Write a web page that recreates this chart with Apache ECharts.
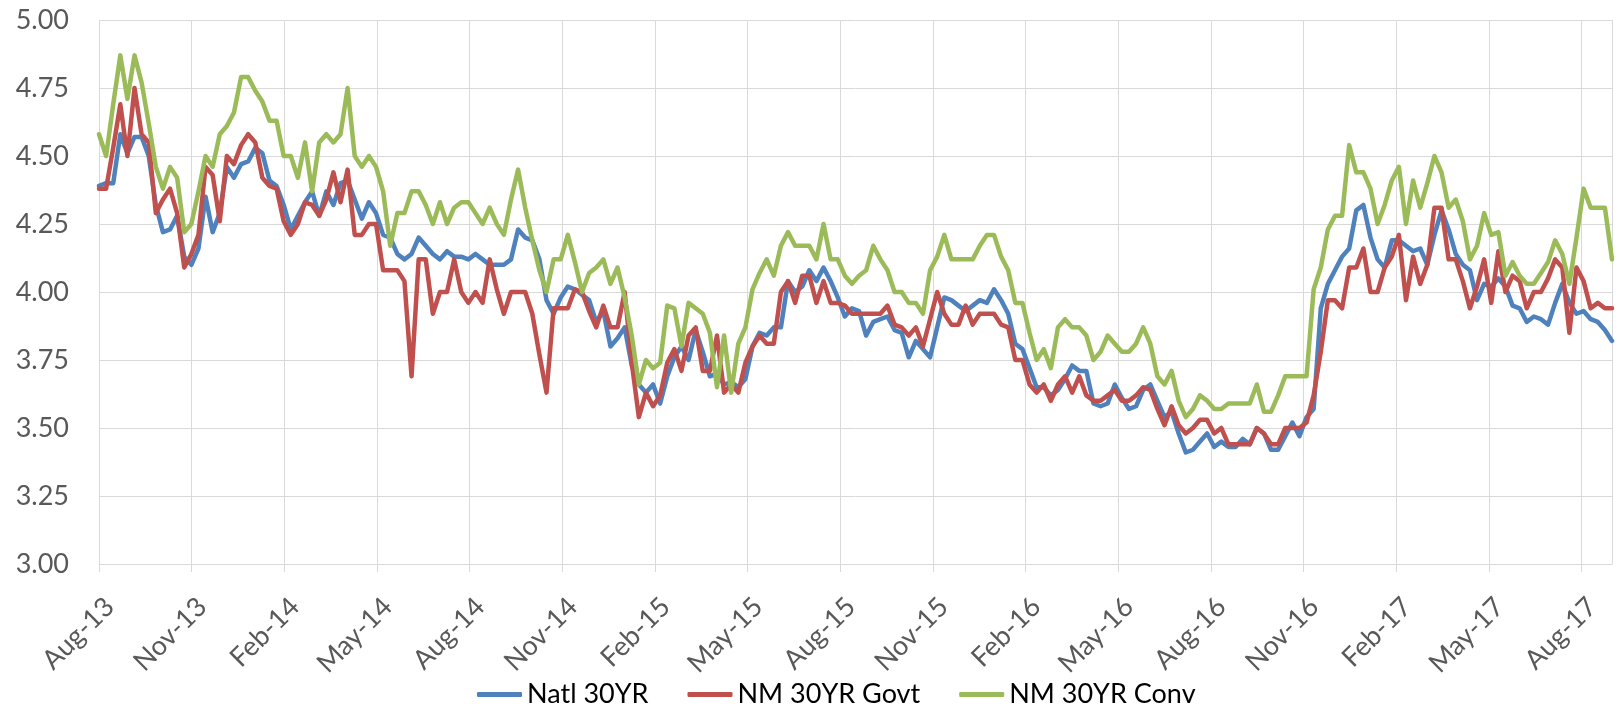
<!DOCTYPE html>
<html>
<head>
<meta charset="utf-8">
<title>30YR rates</title>
<script src="https://cdn.jsdelivr.net/npm/echarts@6/dist/echarts.min.js"></script>
<style>
  html, body { margin: 0; padding: 0; background: #fff; }
  #chart { width: 1618px; height: 704px; }
</style>
</head>
<body>
<div id="chart"></div>
<script>
// weekly readings, first week = Thu 1 Aug 2013, last = Thu 31 Aug 2017
var daysPerWeek = 7;

var natl30 = [
  4.39, 4.40, 4.40, 4.58, 4.51, 4.57, 4.57, 4.50, 4.32, 4.22,
  4.23, 4.28, 4.13, 4.10, 4.16, 4.35, 4.22, 4.29, 4.46, 4.42,
  4.47, 4.48, 4.53, 4.51, 4.41, 4.39, 4.32, 4.23, 4.28, 4.33,
  4.37, 4.28, 4.37, 4.32, 4.40, 4.41, 4.34, 4.27, 4.33, 4.29,
  4.21, 4.20, 4.14, 4.12, 4.14, 4.20, 4.17, 4.14, 4.12, 4.15,
  4.13, 4.13, 4.12, 4.14, 4.12, 4.10, 4.10, 4.10, 4.12, 4.23,
  4.20, 4.19, 4.12, 3.97, 3.92, 3.98, 4.02, 4.01, 3.99, 3.97,
  3.89, 3.93, 3.80, 3.83, 3.87, 3.73, 3.66, 3.63, 3.66, 3.59,
  3.69, 3.76, 3.80, 3.75, 3.86, 3.78, 3.69, 3.70, 3.66, 3.67,
  3.65, 3.68, 3.80, 3.85, 3.84, 3.87, 3.87, 4.04, 4.00, 4.02,
  4.08, 4.04, 4.09, 4.04, 3.98, 3.91, 3.94, 3.93, 3.84, 3.89,
  3.90, 3.91, 3.86, 3.85, 3.76, 3.82, 3.79, 3.76, 3.87, 3.98,
  3.97, 3.95, 3.93, 3.95, 3.97, 3.96, 4.01, 3.97, 3.92, 3.81,
  3.79, 3.72, 3.65, 3.65, 3.62, 3.64, 3.68, 3.73, 3.71, 3.71,
  3.59, 3.58, 3.59, 3.66, 3.61, 3.57, 3.58, 3.64, 3.66, 3.60,
  3.54, 3.56, 3.48, 3.41, 3.42, 3.45, 3.48, 3.43, 3.45, 3.43,
  3.43, 3.46, 3.44, 3.50, 3.48, 3.42, 3.42, 3.47, 3.52, 3.47,
  3.54, 3.57, 3.94, 4.03, 4.08, 4.13, 4.16, 4.30, 4.32, 4.20,
  4.12, 4.09, 4.19, 4.19, 4.17, 4.15, 4.16, 4.10, 4.21, 4.30,
  4.23, 4.14, 4.10, 4.08, 3.97, 4.03, 4.02, 4.05, 4.02, 3.95,
  3.94, 3.89, 3.91, 3.90, 3.88, 3.96, 4.03, 3.96, 3.92, 3.93,
  3.90, 3.89, 3.86, 3.82
];

var nmGovt30 = [
  4.38, 4.38, 4.53, 4.69, 4.50, 4.75, 4.58, 4.55, 4.29, 4.34,
  4.38, 4.29, 4.09, 4.14, 4.21, 4.46, 4.43, 4.26, 4.50, 4.47,
  4.54, 4.58, 4.55, 4.42, 4.39, 4.38, 4.26, 4.21, 4.25, 4.33,
  4.32, 4.28, 4.34, 4.44, 4.33, 4.45, 4.21, 4.21, 4.25, 4.25,
  4.08, 4.08, 4.08, 4.04, 3.69, 4.12, 4.12, 3.92, 4.00, 4.00,
  4.12, 4.00, 3.96, 4.00, 3.96, 4.12, 4.01, 3.92, 4.00, 4.00,
  4.00, 3.92, 3.77, 3.63, 3.94, 3.94, 3.94, 4.01, 4.00, 3.93,
  3.87, 3.95, 3.87, 3.87, 4.00, 3.74, 3.54, 3.63, 3.58, 3.62,
  3.74, 3.79, 3.71, 3.84, 3.87, 3.71, 3.71, 3.84, 3.63, 3.66,
  3.63, 3.74, 3.80, 3.84, 3.81, 3.81, 4.00, 4.04, 3.96, 4.06,
  4.06, 3.96, 4.04, 3.96, 3.96, 3.95, 3.92, 3.92, 3.92, 3.92,
  3.92, 3.95, 3.88, 3.87, 3.84, 3.87, 3.80, 3.90, 4.00, 3.92,
  3.88, 3.88, 3.95, 3.88, 3.92, 3.92, 3.92, 3.88, 3.87, 3.75,
  3.75, 3.66, 3.63, 3.66, 3.60, 3.66, 3.69, 3.63, 3.69, 3.62,
  3.60, 3.60, 3.62, 3.64, 3.60, 3.60, 3.62, 3.65, 3.64, 3.57,
  3.51, 3.58, 3.51, 3.48, 3.50, 3.53, 3.53, 3.48, 3.50, 3.44,
  3.44, 3.44, 3.44, 3.50, 3.48, 3.44, 3.44, 3.50, 3.50, 3.50,
  3.52, 3.62, 3.78, 3.97, 3.97, 3.94, 4.09, 4.09, 4.16, 4.00,
  4.00, 4.09, 4.13, 4.21, 3.97, 4.13, 4.03, 4.10, 4.31, 4.31,
  4.12, 4.12, 4.04, 3.94, 4.02, 4.12, 3.96, 4.15, 4.00, 4.06,
  4.04, 3.94, 4.00, 4.00, 4.05, 4.12, 4.09, 3.85, 4.09, 4.04,
  3.94, 3.96, 3.94, 3.94
];

var nmConv30 = [
  4.58, 4.50, 4.69, 4.87, 4.71, 4.87, 4.77, 4.62, 4.46, 4.38,
  4.46, 4.42, 4.22, 4.25, 4.37, 4.50, 4.46, 4.58, 4.61, 4.66,
  4.79, 4.79, 4.74, 4.70, 4.63, 4.63, 4.50, 4.50, 4.42, 4.55,
  4.37, 4.55, 4.58, 4.55, 4.58, 4.75, 4.50, 4.46, 4.50, 4.46,
  4.37, 4.17, 4.29, 4.29, 4.37, 4.37, 4.32, 4.25, 4.33, 4.25,
  4.31, 4.33, 4.33, 4.29, 4.25, 4.31, 4.25, 4.21, 4.34, 4.45,
  4.31, 4.19, 4.08, 4.00, 4.12, 4.12, 4.21, 4.11, 4.00, 4.07,
  4.09, 4.12, 4.03, 4.09, 3.98, 3.84, 3.66, 3.75, 3.72, 3.74,
  3.95, 3.94, 3.80, 3.96, 3.94, 3.92, 3.85, 3.65, 3.84, 3.63,
  3.81, 3.87, 4.01, 4.07, 4.12, 4.06, 4.17, 4.22, 4.17, 4.17,
  4.17, 4.12, 4.25, 4.12, 4.12, 4.06, 4.03, 4.06, 4.08, 4.17,
  4.12, 4.08, 4.00, 4.00, 3.96, 3.96, 3.92, 4.08, 4.13, 4.21,
  4.12, 4.12, 4.12, 4.12, 4.17, 4.21, 4.21, 4.13, 4.08, 3.96,
  3.96, 3.85, 3.75, 3.79, 3.72, 3.87, 3.90, 3.87, 3.87, 3.84,
  3.75, 3.78, 3.84, 3.81, 3.78, 3.78, 3.81, 3.87, 3.81, 3.69,
  3.66, 3.71, 3.60, 3.54, 3.57, 3.62, 3.60, 3.57, 3.57, 3.59,
  3.59, 3.59, 3.59, 3.66, 3.56, 3.56, 3.62, 3.69, 3.69, 3.69,
  3.69, 4.01, 4.09, 4.23, 4.28, 4.28, 4.54, 4.44, 4.44, 4.38,
  4.25, 4.32, 4.41, 4.46, 4.25, 4.41, 4.31, 4.40, 4.50, 4.44,
  4.31, 4.34, 4.26, 4.12, 4.17, 4.29, 4.21, 4.22, 4.06, 4.11,
  4.06, 4.03, 4.03, 4.07, 4.11, 4.19, 4.14, 4.03, 4.20, 4.38,
  4.31, 4.31, 4.31, 4.12
];

// quarterly tick labels (one every 3 months from Aug-13)
var tickLabels = [
  'Aug-13', 'Nov-13', 'Feb-14', 'May-14', 'Aug-14', 'Nov-14', 'Feb-15', 'May-15',
  'Aug-15', 'Nov-15', 'Feb-16', 'May-16', 'Aug-16', 'Nov-16', 'Feb-17', 'May-17', 'Aug-17'
];

var seriesNames = ['Natl 30YR', 'NM 30YR Govt', 'NM 30YR Conv'];
var seriesColors = ['#4F81BD', '#C0504D', '#9BBB59'];

// x is measured in days from the first week
var lastDay = (natl30.length - 1) * daysPerWeek;          // 1491
var quarterDays = 1461 / (tickLabels.length - 1);          // 4 years split in 16

function toPoints(values) {
  return values.map(function (v, i) { return [i * daysPerWeek, v]; });
}

var font = 'Lato';

var myChart = echarts.init(document.getElementById('chart'));

myChart.setOption({
  animation: false,
  backgroundColor: '#ffffff',
  textStyle: { fontFamily: font },
  grid: { left: 99, right: 6, top: 20, bottom: 140 },
  legend: {
    left: 472,
    top: 676,
    icon: 'roundRect',
    itemWidth: 45,
    itemHeight: 5,
    itemGap: 39,
    textStyle: { fontFamily: font, fontSize: 27, color: '#000000' },
    data: seriesNames
  },
  xAxis: {
    type: 'value',
    min: 0,
    max: lastDay,
    interval: quarterDays,
    axisLine: { show: true, lineStyle: { color: '#d9d9d9', width: 1 } },
    axisTick: { show: true, length: 8, lineStyle: { color: '#d9d9d9' } },
    splitLine: { show: true, lineStyle: { color: '#d9d9d9', width: 1 } },
    axisLabel: {
      rotate: 45,
      margin: 49,
      padding: [0, -15, 0, 0],
      showMaxLabel: false,
      fontFamily: font,
      fontSize: 27,
      color: '#595959',
      formatter: function (v) {
        var k = Math.round(v / quarterDays);
        if (Math.abs(v - k * quarterDays) > 1) return '';
        return tickLabels[k] || '';
      }
    }
  },
  yAxis: {
    type: 'value',
    min: 3,
    max: 5,
    interval: 0.25,
    axisLine: { show: false },
    axisTick: { show: false },
    splitLine: { show: true, lineStyle: { color: '#d9d9d9', width: 1 } },
    axisLabel: {
      margin: 30,
      fontFamily: font,
      fontSize: 27,
      color: '#595959',
      formatter: function (v) { return v.toFixed(2); }
    }
  },
  series: [natl30, nmGovt30, nmConv30].map(function (vals, idx) {
    return {
      name: seriesNames[idx],
      type: 'line',
      symbol: 'none',
      color: seriesColors[idx],
      lineStyle: { width: 4.5, color: seriesColors[idx], cap: 'round', join: 'round' },
      data: toPoints(vals)
    };
  })
});
</script>
</body>
</html>
